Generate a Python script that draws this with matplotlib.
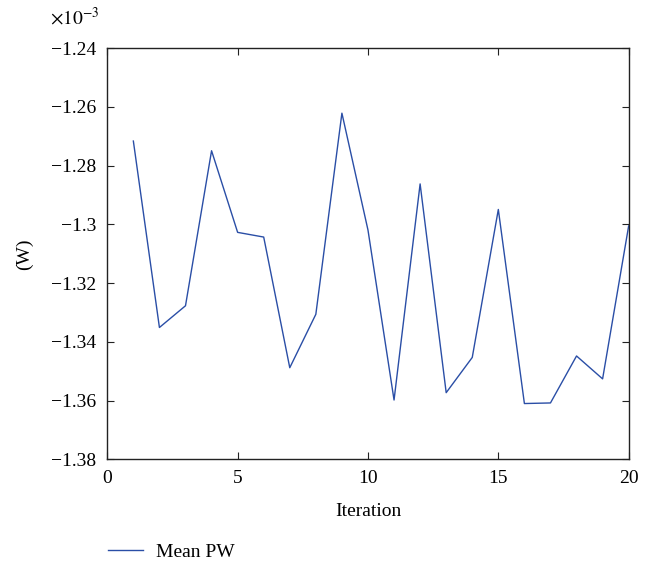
import matplotlib
matplotlib.use("Agg")
import matplotlib.pyplot as plt

# Mean PW per iteration, in units of 1e-3 W
iterations = list(range(1, 21))
mean_pw = [-1.2716, -1.3351, -1.3277, -1.2749, -1.3027, -1.3043, -1.3488,
           -1.3306, -1.2621, -1.3019, -1.3598, -1.2862, -1.3573, -1.3453,
           -1.2949, -1.3610, -1.3608, -1.3448, -1.3526, -1.3005]

x_ticks = [0, 5, 10, 15, 20]
y_ticks = [-1.38, -1.36, -1.34, -1.32, -1.30, -1.28, -1.26, -1.24]
y_labels = ["\u22121.38", "\u22121.36", "\u22121.34", "\u22121.32",
            "\u22121.3", "\u22121.28", "\u22121.26", "\u22121.24"]

plt.rcParams["font.family"] = ["Liberation Serif", "DejaVu Serif"]
plt.rcParams["mathtext.fontset"] = "stix"

fig = plt.figure(figsize=(6.51, 5.64), dpi=100)
ax = fig.add_axes([0.1648, 0.1856, 0.8009, 0.7288])

line, = ax.plot(iterations, mean_pw, color="#2a4ea6", lw=1.0, label="Mean PW")

ax.set_xlim(0, 20)
ax.set_ylim(-1.38, -1.24)
ax.set_xticks(x_ticks)
ax.set_yticks(y_ticks)
ax.set_yticklabels(y_labels)
ax.tick_params(direction="in", top=True, right=True, length=5, width=0.8,
               labelsize=14, pad=8, color="#222222")
for s in ax.spines.values():
    s.set_linewidth(1.0)
    s.set_color("#222222")

ax.set_xlabel("Iteration", fontsize=14, labelpad=11)
ax.set_ylabel("(W)", fontsize=14, labelpad=13)

fig.text(50 / 651, 1 - 18 / 564, r"$\times10^{-3}$", fontsize=14,
         ha="left", va="center")

fig.legend(handles=[line], loc="center left", bbox_to_anchor=(108 / 651, 1 - 552 / 564),
           frameon=False, fontsize=14, handlelength=1.8, handletextpad=0.65,
           borderpad=0, borderaxespad=0)

fig.savefig("out.png", dpi=100)
